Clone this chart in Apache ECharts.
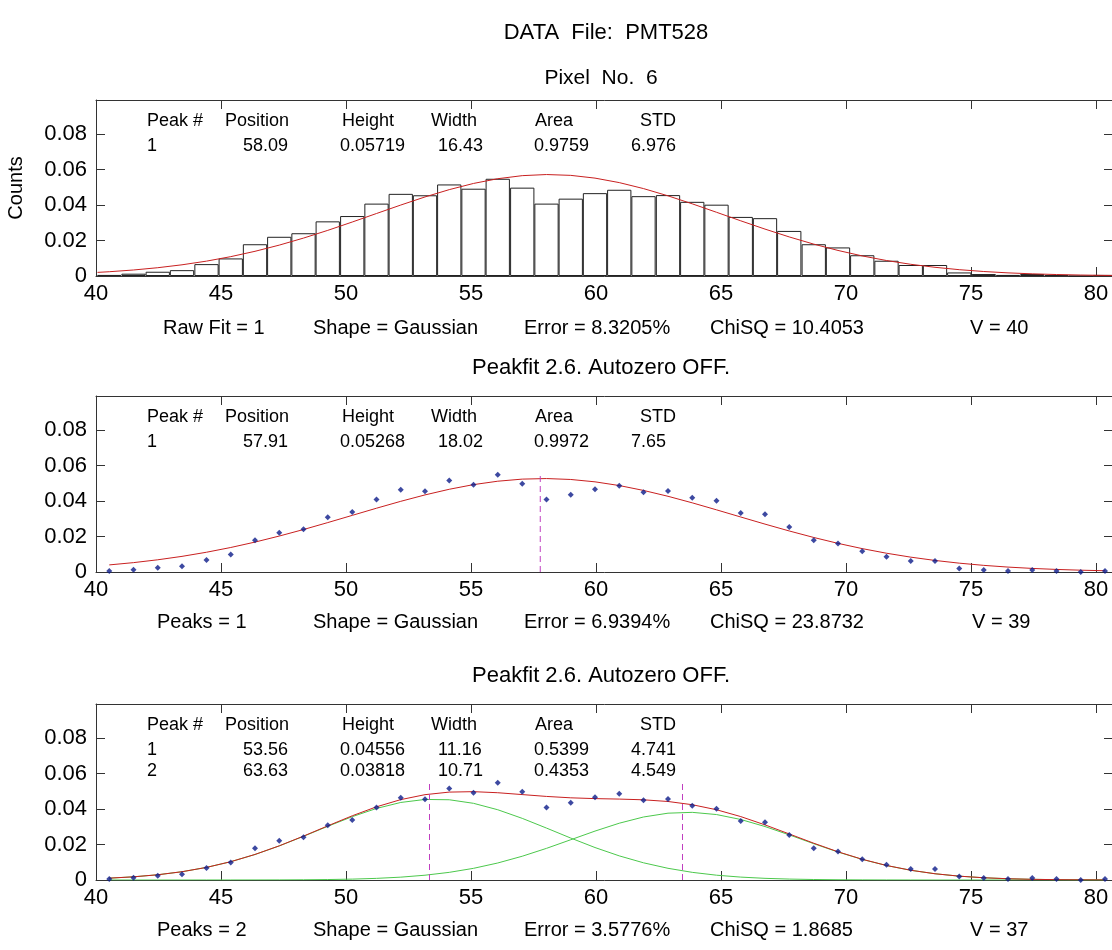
<!DOCTYPE html>
<html>
<head>
<meta charset="utf-8">
<title>PMT528 Peakfit</title>
<script src="https://cdn.jsdelivr.net/npm/echarts@6/dist/echarts.min.js"></script>
<style>
  html, body { margin: 0; padding: 0; background: #fff; }
  #main { width: 1112px; height: 950px; }
</style>
</head>
<body>
<div id="main"></div>
<script>
  // bin centres, shared by the three panels
  const binCenters = [40.53, 41.50, 42.47, 43.44, 44.42, 45.39, 46.36, 47.33, 48.30, 49.27,
    50.25, 51.22, 52.19, 53.16, 54.13, 55.10, 56.07, 57.05, 58.02, 58.99,
    59.96, 60.93, 61.90, 62.88, 63.85, 64.82, 65.79, 66.76, 67.73, 68.71,
    69.68, 70.65, 71.62, 72.59, 73.56, 74.53, 75.51, 76.48, 77.45, 78.42,
    79.39, 80.36];
  // normalised counts per bin
  const counts = [0.0006, 0.0013, 0.0024, 0.0033, 0.0067, 0.0099, 0.0179, 0.0221, 0.0241, 0.0308,
    0.0338, 0.0408, 0.0463, 0.0455, 0.0516, 0.0492, 0.0548, 0.0498, 0.0408, 0.0436,
    0.0467, 0.0486, 0.0450, 0.0456, 0.0418, 0.0402, 0.0333, 0.0326, 0.0254, 0.0179,
    0.0161, 0.0117, 0.0086, 0.0062, 0.0062, 0.0020, 0.0011, 0.0006, 0.0011, 0.0006,
    0.0000, 0.0006];

  // raw fit curve (top panel), runs edge to edge
  const rawFitX = [40.06].concat(binCenters, [80.84]);
  const rawFit = [0.00204, 0.00241, 0.00339, 0.00467, 0.00631, 0.00838, 0.01091, 0.01392, 0.01741, 0.02137,
    0.02572, 0.03042, 0.03522, 0.04000, 0.04456, 0.04868, 0.05217, 0.05484, 0.05656, 0.05719,
    0.05672, 0.05517, 0.05264, 0.04927, 0.04518, 0.04067, 0.03592, 0.03110, 0.02643, 0.02202,
    0.01796, 0.01440, 0.01131, 0.00872, 0.00659, 0.00490, 0.00356, 0.00253, 0.00177, 0.00122,
    0.00082, 0.00054, 0.00035, 0.00028];

  // one peak fit (middle panel)
  const fitOne = [0.00399, 0.00528, 0.00688, 0.00881, 0.01114, 0.01381, 0.01686, 0.02026, 0.02394, 0.02785,
    0.03192, 0.03595, 0.03984, 0.04345, 0.04663, 0.04925, 0.05117, 0.05235, 0.05267, 0.05215,
    0.05082, 0.04873, 0.04598, 0.04267, 0.03898, 0.03504, 0.03100, 0.02699, 0.02312, 0.01946,
    0.01614, 0.01318, 0.01058, 0.00837, 0.00651, 0.00498, 0.00374, 0.00277, 0.00202, 0.00145,
    0.00102, 0.00071];

  // two peak fit (bottom panel)
  const peakA = [0.00104, 0.00179, 0.00295, 0.00466, 0.00709, 0.01031, 0.01437, 0.01920, 0.02461, 0.03025,
    0.03570, 0.04033, 0.04370, 0.04540, 0.04523, 0.04322, 0.03960, 0.03474, 0.02926, 0.02363,
    0.01830, 0.01360, 0.00969, 0.00659, 0.00431, 0.00271, 0.00163, 0.00094, 0.00052, 0.00028,
    0.00014, 0.00007, 0.00003, 0.00001, 0, 0, 0, 0, 0, 0,
    0, 0];
  const peakB = [0, 0, 0, 0, 0.00001, 0.00001, 0.00003, 0.00006, 0.00013, 0.00026,
    0.00050, 0.00092, 0.00161, 0.00270, 0.00431, 0.00657, 0.00959, 0.01340, 0.01784, 0.02269,
    0.02757, 0.03201, 0.03551, 0.03766, 0.03813, 0.03689, 0.03411, 0.03013, 0.02543, 0.02046,
    0.01576, 0.01160, 0.00816, 0.00548, 0.00352, 0.00216, 0.00126, 0.00071, 0.00038, 0.00019,
    0.00009, 0.00004];
  const fitTwo = [0.00104, 0.00179, 0.00295, 0.00466, 0.00710, 0.01032, 0.01440, 0.01926, 0.02474, 0.03051,
    0.03620, 0.04125, 0.04531, 0.04810, 0.04954, 0.04979, 0.04919, 0.04814, 0.04710, 0.04632,
    0.04587, 0.04561, 0.04520, 0.04425, 0.04244, 0.03960, 0.03574, 0.03107, 0.02595, 0.02074,
    0.01590, 0.01167, 0.00819, 0.00549, 0.00352, 0.00216, 0.00126, 0.00071, 0.00038, 0.00019,
    0.00009, 0.00004];

  // peak position markers, as drawn
  const markOne = [57.77];
  const markTwo = [53.34, 63.46];
  const markTop = 0.0552;

  // text tables
  const tableHeader = ['Peak #', 'Position', 'Height', 'Width', 'Area', 'STD'];
  const rawRows = [['1', '58.09', '0.05719', '16.43', '0.9759', '6.976']];
  const oneRows = [['1', '57.91', '0.05268', '18.02', '0.9972', '7.65']];
  const twoRows = [['1', '53.56', '0.04556', '11.16', '0.5399', '4.741'],
                   ['2', '63.63', '0.03818', '10.71', '0.4353', '4.549']];
  const footRaw = ['Raw Fit = 1', 'Shape = Gaussian', 'Error = 8.3205%', 'ChiSQ = 10.4053', 'V = 40'];
  const footOne = ['Peaks = 1', 'Shape = Gaussian', 'Error = 6.9394%', 'ChiSQ = 23.8732', 'V = 39'];
  const footTwo = ['Peaks = 2', 'Shape = Gaussian', 'Error = 3.5776%', 'ChiSQ = 1.8685', 'V = 37'];

  const FONT = '"Liberation Sans", Arial, Helvetica, sans-serif';
  const RED = '#c82020';
  const GREEN = '#4cc84c';
  const BLUE = '#0c1c8a';
  const MAGENTA = '#c040c0';
  const AXIS = '#333';

  const gridTops = [100, 396, 704];
  const gridH = 176;

  const chart = echarts.init(document.getElementById('main'));

  function pairs(xs, ys) {
    return xs.map((x, i) => [x, ys[i]]);
  }

  const xAxes = [];
  const yAxes = [];
  gridTops.forEach((t, i) => {
    const base = {
      type: 'value', gridIndex: i, min: 40, max: 80.68, interval: 5,
      axisLine: {show: true, onZero: false, lineStyle: {color: AXIS, width: 1}},
      axisTick: {show: true, inside: true, length: 9, lineStyle: {color: AXIS}},
      splitLine: {show: false}
    };
    xAxes.push(Object.assign({}, base, {
      position: 'bottom',
      axisLabel: {
        fontSize: 22, color: '#000', fontFamily: FONT, margin: 7,
        formatter: v => (Math.abs(v % 5) < 1e-6 ? String(v) : '')
      }
    }));
    xAxes.push(Object.assign({}, base, {position: 'top', axisLabel: {show: false}}));

    const ybase = {
      type: 'value', gridIndex: i, min: 0, max: 0.0992, interval: 0.02,
      axisLine: {show: true, onZero: false, lineStyle: {color: AXIS, width: 1}},
      axisTick: {show: true, inside: true, length: 9, lineStyle: {color: AXIS}},
      splitLine: {show: false}
    };
    const left = Object.assign({}, ybase, {
      position: 'left',
      axisLabel: {
        fontSize: 22, color: '#000', fontFamily: FONT, margin: 9,
        formatter: v => (v === 0 ? '0' : (v > 0.09 ? '' : v.toFixed(2)))
      }
    });
    if (i === 0) {
      left.name = 'Counts';
      left.nameLocation = 'middle';
      left.nameGap = 70;
      left.nameTextStyle = {fontSize: 20, color: '#000', fontFamily: FONT};
    }
    yAxes.push(left);
    yAxes.push(Object.assign({}, ybase, {position: 'right', axisLabel: {show: false}}));
  });

  function curve(i, xs, ys, color) {
    return {
      type: 'line', xAxisIndex: 2 * i, yAxisIndex: 2 * i,
      data: pairs(xs, ys), showSymbol: false, symbol: 'none',
      lineStyle: {color: color, width: 1}, z: 3, silent: true
    };
  }
  function dots(i) {
    return {
      type: 'scatter', xAxisIndex: 2 * i, yAxisIndex: 2 * i,
      data: pairs(binCenters, counts), symbol: 'diamond', symbolSize: 6,
      itemStyle: {color: BLUE}, z: 5, silent: true
    };
  }
  function marker(i, x) {
    return {
      type: 'line', xAxisIndex: 2 * i, yAxisIndex: 2 * i,
      data: [[x, 0], [x, markTop]], showSymbol: false, symbol: 'none',
      lineStyle: {color: MAGENTA, width: 1, type: [6, 4]}, z: 4, silent: true
    };
  }

  const series = [
    {
      type: 'bar', xAxisIndex: 0, yAxisIndex: 0, data: pairs(binCenters, counts),
      barWidth: 24.3, itemStyle: {color: '#fff', borderColor: '#222', borderWidth: 1},
      z: 2, silent: true
    },
    curve(0, rawFitX, rawFit, RED),
    curve(1, binCenters, fitOne, RED),
    marker(1, markOne[0]),
    dots(1),
    curve(2, binCenters, peakA, GREEN),
    curve(2, binCenters, peakB, GREEN),
    curve(2, binCenters, fitTwo, RED),
    marker(2, markTwo[0]),
    marker(2, markTwo[1]),
    dots(2)
  ];

  const graphic = [];
  function text(str, x, y, size, align) {
    graphic.push({
      type: 'text', x: x, y: y, silent: true,
      style: {text: str, fill: '#000', font: size + 'px ' + FONT,
              textAlign: align || 'left', textVerticalAlign: 'middle'}
    });
  }

  const headX = [147, 225, 342, 431, 535, 640];
  const cellX = [147, 243, 340, 438, 534, 631];
  [rawRows, oneRows, twoRows].forEach((rows, i) => {
    const t = gridTops[i];
    tableHeader.forEach((h, k) => text(h, headX[k], t + 21, 18));
    rows.forEach((row, r) => {
      row.forEach((c, k) => text(c, cellX[k], t + 46 + r * 21, 18));
    });
  });

  const footX = [[163, 313, 524, 710, 970], [157, 313, 524, 710, 972], [157, 313, 524, 710, 970]];
  const footY = [328, 622, 930];
  [footRaw, footOne, footTwo].forEach((f, i) => {
    f.forEach((s, k) => text(s, footX[i][k], footY[i], 20));
  });

  text('DATA  File:  PMT528', 606, 33, 22, 'center');
  text('Pixel  No.  6', 601, 78, 21, 'center');
  text('Peakfit 2.6. Autozero OFF.', 601, 368, 22, 'center');
  text('Peakfit 2.6. Autozero OFF.', 601, 676, 22, 'center');

  chart.setOption({
    animation: false,
    backgroundColor: '#fff',
    grid: gridTops.map(t => ({
      left: 96, top: t, width: 1017, height: gridH, outerBoundsMode: 'none'
    })),
    xAxis: xAxes,
    yAxis: yAxes,
    series: series,
    graphic: graphic
  });
</script>
</body>
</html>
